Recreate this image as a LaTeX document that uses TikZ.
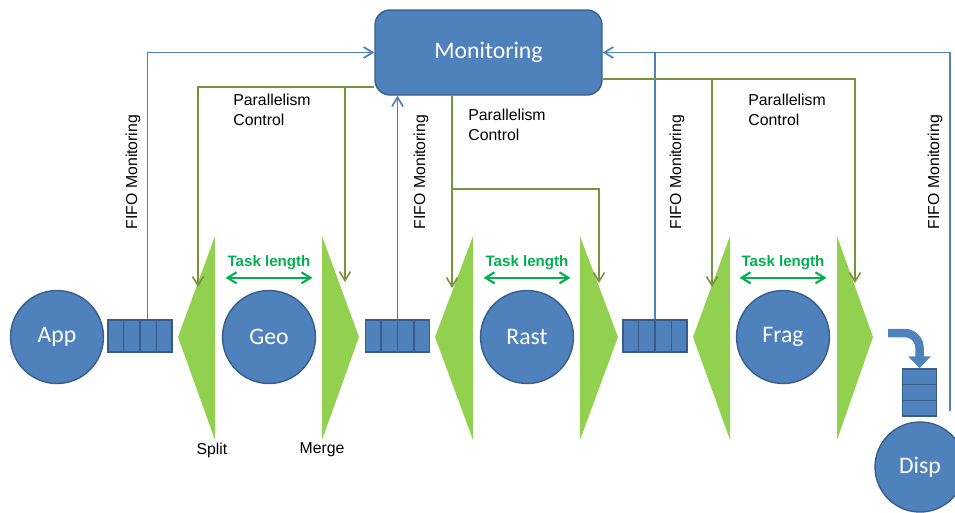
\documentclass[tikz,border=0pt]{standalone}
\usepackage{fontspec}
\setmainfont{Liberation Sans}
\newfontfamily\stagefont{Carlito}
\usepackage{tikz}
\usetikzlibrary{positioning, arrows.meta, calc}
\definecolor{stageblue}{HTML}{4F81BD}
\definecolor{stageedge}{HTML}{385D8A}
\definecolor{ctrlolive}{HTML}{77933C}
\definecolor{wedgegreen}{HTML}{92D050}
\definecolor{taskgreen}{HTML}{00B050}
\tikzset{
    >={Straight Barb[length=0.18cm, width=0.22cm]},
    stage/.style={circle, draw=stageedge, fill=stageblue, line width=0.8pt, minimum size=1.86cm,
        inner sep=0pt, text=white, font=\stagefont\fontsize{13.5}{16}\selectfont},
    monbox/.style={rectangle, rounded corners=0.3cm, draw=stageedge, fill=stageblue, line width=0.8pt,
        minimum width=4.54cm, minimum height=1.7cm, text=white, font=\stagefont\fontsize{13.5}{16}\selectfont},
    fifo/.style={rectangle, draw=stageedge, fill=stageblue, line width=0.8pt,
        minimum width=1.28cm, minimum height=0.64cm, inner sep=0pt},
    fifostack/.style={fifo, minimum width=0.68cm, minimum height=0.94cm},
    fifoline/.style={->, draw=stageblue, line width=1pt},
    ctrl/.style={->, draw=ctrlolive, line width=0.9pt},
    wedge/.style={fill=wedgegreen, draw=none},
    tasklen/.style={<->, draw=taskgreen, line width=1.2pt},
    tasklbl/.style={text=taskgreen, inner sep=0pt, font=\bfseries\fontsize{8.6}{10}\selectfont},
    lbl/.style={text=black, inner sep=0pt, font=\fontsize{9}{11.3}\selectfont},
}

\begin{document}
\begin{tikzpicture}[x=0.02cm, y=-0.02cm]
    \useasboundingbox (0,0) rectangle (955,512);

    % split and merge wedges
    \foreach \ax/\bx in {178/215, 435/473, 693/730, 359/322, 618/580, 873/837}
        \fill[wedge] (\ax,337) -- (\bx,236) -- (\bx,440) -- cycle;

    \node[stage] (app)  at (57,337)  {App};
    \node[fifo]  (q1)   at (140,336) {};
    \node[stage] (geo)  at (269,337) {Geo};
    \node[fifo]  (q2)   at (397.5,336) {};
    \node[stage] (rast) at (527,337) {Rast};
    \node[fifo]  (q3)   at (655,336) {};
    \node[stage] (frag) at (783,337) {Frag};
    \node[fifostack] (q4) at (919.5,392.5) {};
    \node[stage, minimum size=1.8cm] (disp) at (920,467) {Disp};
    \node[monbox] (mon) at (488.5,52.5) {Monitoring};

    % queue cells
    \foreach \q in {q1,q2,q3}
        \foreach \f in {0.25,0.5,0.75}
            \draw[stageedge, line width=0.8pt] ($(\q.south west)!\f!(\q.south east)$) -- ($(\q.north west)!\f!(\q.north east)$);
    \foreach \f in {0.333,0.667}
        \draw[stageedge, line width=0.8pt] ($(q4.north west)!\f!(q4.south west)$) -- ($(q4.north east)!\f!(q4.south east)$);

    % hand over to display
    \coordinate (bend) at (888,333);
    \draw[stageblue, line width=0.17cm, rounded corners=0.3cm, -{Triangle[length=0.24cm, width=0.44cm]}]
        (bend) -| (q4.north);

    \node[lbl] (split) at (212,450) {Split};
    \node[lbl] (merge) at (322,450) {Merge};

    % task length
    \foreach \s in {geo,rast,frag} {
        \draw[tasklen] ([shift={(-0.87cm,0.24cm)}]\s.north) -- ([shift={(0.87cm,0.24cm)}]\s.north);
        \node[tasklbl] (\s-len) at ([yshift=0.54cm]\s.north) {Task length};
    }

    % FIFO monitoring
    \coordinate (d4) at (950,411);
    \draw[fifoline] ([xshift=0.15cm]q1.north) |- (mon.west);
    \draw[fifoline] (q2.north) -- (q2.north |- mon.south);
    \draw[fifoline, -] (q3.north) -- (q3.north |- mon.east);
    \draw[fifoline] (d4) |- (mon.east);
    \node[lbl, rotate=90] (fm1) at (133,172) {FIFO Monitoring};
    \node[lbl, rotate=90] (fm2) at (421,172) {FIFO Monitoring};
    \node[lbl, rotate=90] (fm3) at (677,172) {FIFO Monitoring};
    \node[lbl, rotate=90] (fm4) at (935,172) {FIFO Monitoring};

    % parallelism control
    \coordinate (s1in) at (198,287);
    \coordinate (m1in) at (345,282);
    \coordinate (s2in) at (452,288);
    \coordinate (m2in) at (599,283);
    \coordinate (s3in) at (712,287);
    \coordinate (m3in) at (855,283);
    \coordinate (c1) at ([yshift=-0.69cm]mon.west);
    \coordinate (c2) at (452,189);
    \coordinate (c3) at ([yshift=-0.53cm]mon.east);
    \draw[ctrl] (c1) -| (s1in);
    \draw[ctrl] (c1 -| m1in) -- (m1in);
    \draw[ctrl] (s2in |- mon.south) -- (s2in);
    \draw[ctrl] (c2) -| (m2in);
    \draw[ctrl] (c3) -| (m3in);
    \draw[ctrl] (c3 -| s3in) -- (s3in);
    \node[lbl, align=left, anchor=north west] (pc1) at (233,94)  {Parallelism\\Control};
    \node[lbl, align=left, anchor=north west] (pc2) at (468,109) {Parallelism\\Control};
    \node[lbl, align=left, anchor=north west] (pc3) at (748,94)  {Parallelism\\Control};
\end{tikzpicture}
\end{document}
